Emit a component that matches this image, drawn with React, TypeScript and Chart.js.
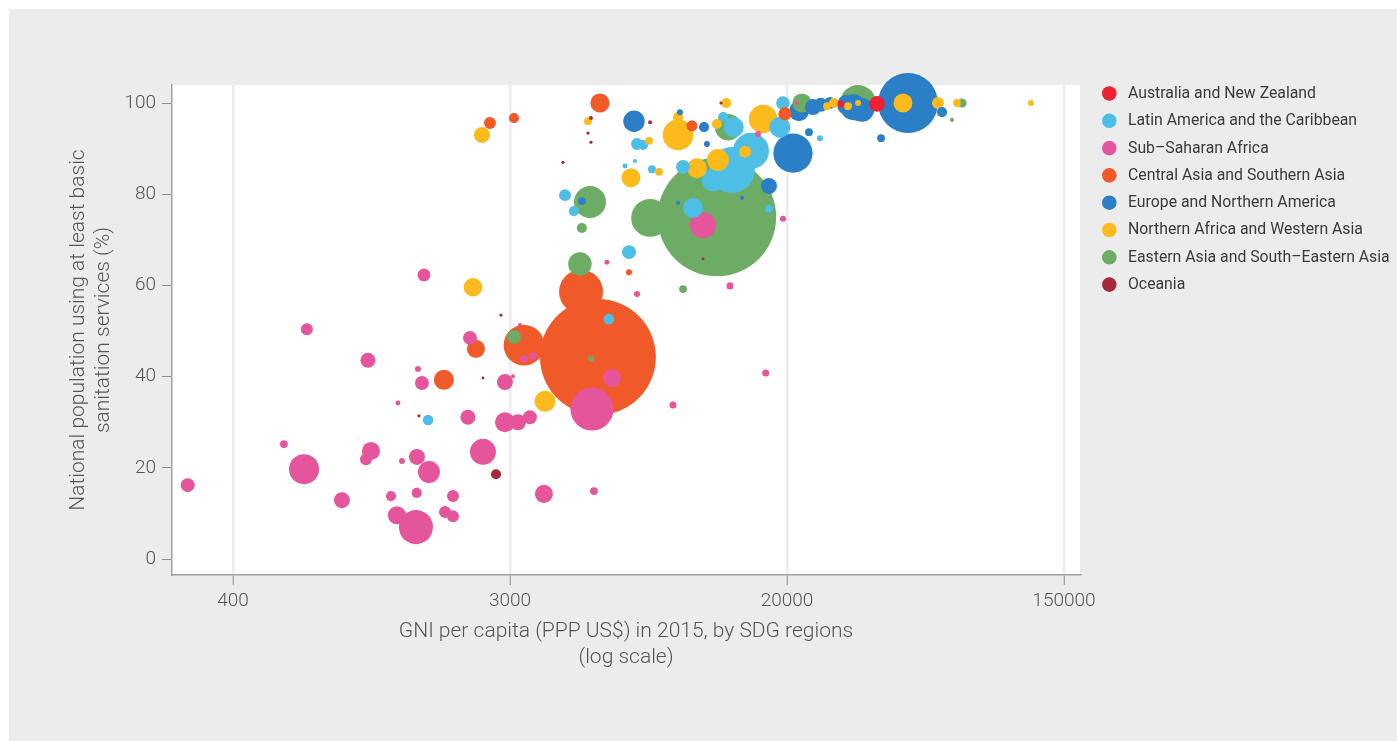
import { useEffect, useRef } from 'react';
import { Chart, registerables } from 'chart.js';

Chart.register(...registerables);

type Pt = [number, number, number]; // [GNI per capita PPP US$, % population with basic sanitation, population (millions)]

const REGION_NAMES = [
  'Australia and New Zealand',
  'Latin America and the Caribbean',
  'Sub\u2013Saharan Africa',
  'Central Asia and Southern Asia',
  'Europe and Northern America',
  'Northern Africa and Western Asia',
  'Eastern Asia and South\u2013Eastern Asia',
  'Oceania',
];

const REGION_COLORS = ['#ec2131', '#4dbfe7', '#e5559b', '#f05a28', '#2a7fc6', '#fdba1c', '#6cac65', '#a52a3c'];

const AUS_NZ: Pt[] = [[42200, 99.8, 24], [32500, 99.8, 4.6]];

const LATIN_AMERICA: Pt[] = [
  [1650, 30.5, 11], [6090, 52.6, 11], [7460, 91, 14], [7790, 90.8, 10], [6840, 86.2, 2.4],
  [7350, 87.3, 1.6], [8310, 85.5, 6], [4435, 79.8, 14], [4730, 76.3, 10], [7040, 67.3, 19],
  [11170, 77, 39], [10400, 86, 19], [13900, 96.9, 10], [15000, 94.7, 39], [14800, 85.3, 206],
  [16980, 89.5, 127], [12910, 83.1, 48], [20930, 94.7, 43], [19340, 76.8, 6], [21390, 100, 18],
  [27950, 92.3, 3.5],
];

const SUB_SAHARAN: Pt[] = [
  [291, 16.2, 19], [1602, 62.3, 16], [688, 50.4, 14], [1069, 43.6, 22], [2233, 48.5, 19],
  [1534, 41.7, 3.5], [1579, 38.6, 19], [1328, 34.2, 2.4], [2201, 31.1, 22], [2875, 38.8, 25],
  [2875, 30, 39], [3159, 30, 25], [3442, 31.1, 19], [583, 25.2, 6], [674, 19.7, 88],
  [674, 17.5, 6], [1093, 23.7, 32], [1054, 21.9, 14], [1367, 21.5, 3.5], [1523, 22.4, 25],
  [1661, 19.1, 47], [2453, 23.5, 66], [3809, 14.3, 32], [5467, 14.9, 6], [886, 12.9, 25],
  [1263, 13.8, 10], [1520, 14.5, 10], [1975, 13.8, 14], [1318, 9.6, 32], [1512, 7.0, 113],
  [1865, 10.3, 14], [1975, 9.4, 14], [3204, 51.3, 1.6], [3297, 43.9, 6], [3519, 44.5, 6],
  [3046, 40.1, 1.6], [5389, 32.9, 182], [6225, 39.7, 32], [7459, 58.1, 3.5], [9670, 33.8, 4.8],
  [6003, 65.1, 2.4], [14600, 59.9, 4.8], [21400, 74.6, 3.5], [18900, 40.8, 4.8], [17870, 93.2, 3.5],
  [12010, 73.2, 66], [23670, 100, 1.6],
];

const CENTRAL_SOUTH_ASIA: Pt[] = [
  [5625, 44.3, 1311], [4980, 58.6, 189], [3297, 46.9, 161], [2332, 46.1, 32], [1850, 39.3, 39],
  [5710, 100, 36], [2580, 95.6, 14], [3069, 96.7, 10], [7040, 62.9, 3.5], [11090, 95, 12],
  [21700, 97.6, 17],
];

const EUROPE_N_AMERICA: Pt[] = [
  [7300, 96, 45], [10170, 98, 3.5], [12100, 94.7, 10], [12360, 91, 3.5], [23000, 89, 150],
  [19340, 81.8, 25], [15920, 79.2, 1.6], [10030, 78.1, 1.6], [5010, 78.5, 6], [25820, 93.6, 6],
  [24010, 98.2, 39], [26570, 99.1, 25], [28150, 99.6, 19], [30050, 100, 14], [33970, 99.6, 39],
  [35500, 99.1, 64], [37880, 98.5, 56], [43450, 92.3, 6], [52760, 100, 350], [67450, 98, 10],
  [47330, 99.8, 81],
];

const N_AFRICA_W_ASIA: Pt[] = [
  [2283, 59.6, 34], [3840, 34.6, 43], [2435, 93, 25], [5235, 96, 6], [7140, 83.6, 35],
  [8740, 84.9, 6], [10030, 93, 92], [10030, 96.9, 10], [8140, 91.7, 6], [11500, 85.7, 39],
  [13380, 87.5, 47], [13280, 95.4, 10], [16270, 89.3, 14], [18530, 96.5, 79], [14200, 100, 10],
  [29420, 99.3, 6], [30920, 100, 10], [34220, 99.3, 6], [36800, 100, 3.5], [50900, 100, 35],
  [65530, 100, 14], [75140, 100, 6], [128300, 100, 3.5],
];

const E_SE_ASIA: Pt[] = [
  [13280, 75, 1371], [8200, 74.8, 140], [5313, 78.3, 100], [4940, 64.7, 54], [5010, 72.6, 10],
  [10400, 59.2, 6], [14400, 94.7, 68], [24540, 100, 36], [36800, 100, 126], [5350, 43.9, 3.5],
  [3069, 48.7, 19], [72500, 96.3, 1.6], [77950, 100, 8],
];

const OCEANIA: Pt[] = [
  [2695, 18.6, 10], [5350, 96.7, 1.6], [5235, 93.4, 1], [5350, 91.4, 1], [4370, 87, 1],
  [8200, 95.8, 1.6], [12010, 65.8, 0.8], [2793, 53.5, 1], [2453, 39.7, 0.8], [1545, 31.4, 1],
  [13680, 100, 1],
];

const REGION_DATA = [AUS_NZ, LATIN_AMERICA, SUB_SAHARAN, CENTRAL_SOUTH_ASIA, EUROPE_N_AMERICA, N_AFRICA_W_ASIA, E_SE_ASIA, OCEANIA];

const X_TICK_VALUES = [403.43, 2980.96, 22026.47, 162754.79];
const X_TICK_LABELS = ['400', '3000', '20000', '150000'];
const Y_TICK_VALUES = [0, 20, 40, 60, 80, 100];

const X_TITLE = ['GNI per capita (PPP US$) in 2015, by SDG regions', '(log scale)'];
const Y_TITLE = ['National population using at least basic', 'sanitation services (%)'];

const TICK_FONT = { family: 'Roboto', weight: '300', size: 19 } as any;
const TITLE_FONT = { family: 'Roboto', weight: '300', size: 21 } as any;
const AXIS_COLOR = '#555555';

const plotBackground = {
  id: 'plotBackground',
  beforeDraw(chart: any) {
    const { ctx, chartArea } = chart;
    ctx.save();
    ctx.fillStyle = '#ffffff';
    ctx.fillRect(chartArea.left, chartArea.top, chartArea.right - chartArea.left, chartArea.bottom - chartArea.top);
    ctx.restore();
  },
};

const regionLegend = {
  id: 'regionLegend',
  afterDraw(chart: any) {
    const { ctx, chartArea } = chart;
    ctx.save();
    ctx.font = '400 15.8px Roboto';
    ctx.textBaseline = 'middle';
    ctx.textAlign = 'left';
    REGION_NAMES.forEach((name, i) => {
      const y = chartArea.top + 8.5 + i * 27.3;
      const cx = chartArea.right + 29.3;
      ctx.beginPath();
      ctx.arc(cx, y, 7.3, 0, Math.PI * 2);
      ctx.fillStyle = REGION_COLORS[i];
      ctx.fill();
      ctx.fillStyle = '#3a3a3a';
      ctx.fillText(name, cx + 18.7, y + 0.5);
    });
    ctx.restore();
  },
};

export default function App() {
  const canvasRef = useRef<HTMLCanvasElement | null>(null);

  useEffect(() => {
    if (!canvasRef.current) return;
    const points: { x: number; y: number; r: number; pop: number; color: string }[] = [];
    REGION_DATA.forEach((list, ri) => {
      list.forEach(([gni, pct, pop]) => {
        points.push({ x: gni, y: pct, r: 1.6 * Math.sqrt(pop), pop, color: REGION_COLORS[ri] });
      });
    });
    points.sort((a, b) => b.pop - a.pop);

    const chart = new Chart(canvasRef.current, {
      type: 'bubble',
      data: {
        datasets: [
          {
            label: 'Countries',
            data: points.map((p) => ({ x: p.x, y: p.y, r: p.r })),
            backgroundColor: points.map((p) => p.color),
            borderWidth: 0,
            hoverRadius: 0,
            clip: false as any,
          },
        ],
      },
      options: {
        animation: false,
        responsive: false,
        events: [],
        layout: { padding: { top: 76, right: 317, bottom: 0, left: 0 } },
        plugins: { legend: { display: false }, tooltip: { enabled: false } },
        scales: {
          x: {
            type: 'logarithmic',
            min: 259.8,
            max: 182700,
            afterBuildTicks: (s: any) => {
              s.ticks = X_TICK_VALUES.map((v) => ({ value: v }));
            },
            afterFit: (s: any) => {
              s.height = 166;
            },
            ticks: {
              autoSkip: false,
              maxRotation: 0,
              padding: 5,
              font: TICK_FONT,
              color: AXIS_COLOR,
              callback: (_v: any, i: number) => X_TICK_LABELS[i],
            },
            grid: { color: '#eaeef2', lineWidth: 2.5, tickColor: '#8c8c8c', tickWidth: 1, tickLength: 10 },
            border: { color: '#a0a0a0', width: 1.5 },
            title: { display: true, text: X_TITLE, font: TITLE_FONT, color: AXIS_COLOR, padding: { top: 0, bottom: 71 } },
          },
          y: {
            type: 'linear',
            min: -3.5,
            max: 103.95,
            afterBuildTicks: (s: any) => {
              s.ticks = Y_TICK_VALUES.map((v) => ({ value: v }));
            },
            afterFit: (s: any) => {
              s.width = 163;
            },
            ticks: { padding: 6, font: TICK_FONT, color: AXIS_COLOR },
            grid: { drawOnChartArea: false, tickColor: '#8c8c8c', tickWidth: 1, tickLength: 10 },
            border: { color: '#a0a0a0', width: 1.5 },
            title: { display: true, text: Y_TITLE, font: TITLE_FONT, color: AXIS_COLOR, padding: { top: 57, bottom: 0 } },
          },
        },
      } as any,
      plugins: [plotBackground, regionLegend],
    });
    return () => chart.destroy();
  }, []);

  return (
    <div style={{ position: 'absolute', left: 9, top: 9, width: 1388, height: 732, background: '#ececec' }}>
      <canvas ref={canvasRef} width={1388} height={732} style={{ display: 'block', width: 1388, height: 732 }} />
    </div>
  );
}
